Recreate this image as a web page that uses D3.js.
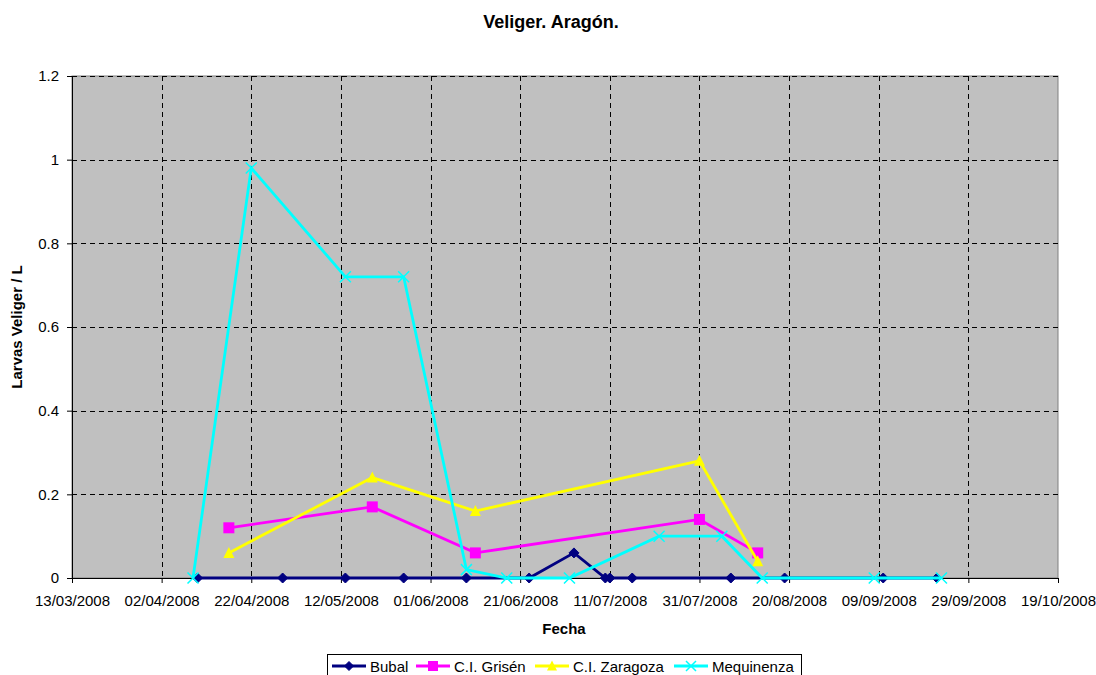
<html>
<head>
<meta charset="utf-8">
<script src="https://d3js.org/d3.v7.min.js"></script>
<style>
  body { margin: 0; background: #fff; }
  text { font-family: "Liberation Sans", Arial, sans-serif; }
</style>
</head>
<body>
<div id="chart"></div>
<script>
// series data (dates dd/mm/yyyy, larvas / L)
var bubalDates = ["10/04/2008","29/04/2008","13/05/2008","26/05/2008","09/06/2008","23/06/2008","03/07/2008","10/07/2008","11/07/2008","16/07/2008","07/08/2008","19/08/2008","10/09/2008","22/09/2008"];
var bubalValues = [0,0,0,0,0,0,0.06,0,0,0,0,0,0,0];

var grisenDates = ["17/04/2008","19/05/2008","11/06/2008","31/07/2008","13/08/2008"];
var grisenValues = [0.12,0.17,0.06,0.14,0.06];

var zaragozaDates = ["17/04/2008","19/05/2008","11/06/2008","31/07/2008","13/08/2008"];
var zaragozaValues = [0.06,0.24,0.16,0.28,0.04];

var mequiDates = ["09/04/2008","22/04/2008","13/05/2008","26/05/2008","09/06/2008","18/06/2008","02/07/2008","22/07/2008","05/08/2008","14/08/2008","08/09/2008","23/09/2008"];
var mequiValues = [0,0.98,0.72,0.72,0.02,0,0,0.1,0.1,0,0,0];

var xTickLabels = ["13/03/2008","02/04/2008","22/04/2008","12/05/2008","01/06/2008","21/06/2008","11/07/2008","31/07/2008","20/08/2008","09/09/2008","29/09/2008","19/10/2008"];
var yTicks = [0,0.2,0.4,0.6,0.8,1,1.2];

var parse = d3.timeParse("%d/%m/%Y");
var fmt = d3.timeFormat("%d/%m/%Y");

var series = [
  { name: "Bubal", color: "#000080", marker: "diamond", dates: bubalDates, values: bubalValues },
  { name: "C.I. Grisén", color: "#FF00FF", marker: "square", dates: grisenDates, values: grisenValues },
  { name: "C.I. Zaragoza", color: "#FFFF00", marker: "triangle", dates: zaragozaDates, values: zaragozaValues },
  { name: "Mequinenza", color: "#00FFFF", marker: "x", dates: mequiDates, values: mequiValues }
];
series.forEach(function (s) {
  s.points = s.dates.map(function (d, i) { return { date: parse(d), value: s.values[i] }; });
});

var W = 1096, H = 675;
var margin = { top: 76, right: 38, bottom: 97, left: 72 };
var width = W - margin.left - margin.right,
    height = H - margin.top - margin.bottom;

var svg = d3.select("#chart").append("svg")
  .attr("width", W).attr("height", H);

svg.append("text")
  .attr("x", 551).attr("y", 28)
  .attr("text-anchor", "middle")
  .style("font-weight", "bold").style("font-size", "18px")
  .text("Veliger. Aragón.");

var g = svg.append("g").attr("transform", "translate(" + margin.left + "," + margin.top + ")");

var x = d3.scaleTime()
  .domain([parse(xTickLabels[0]), parse(xTickLabels[xTickLabels.length - 1])])
  .range([0, width]);
var y = d3.scaleLinear().domain([0, 1.2]).range([height, 0]);

// plot area
g.append("rect")
  .attr("width", width).attr("height", height)
  .attr("fill", "#C0C0C0").attr("stroke", "#808080").attr("stroke-width", 1);

var xTickDates = xTickLabels.map(parse);

// grid
g.selectAll(".hgrid").data(yTicks.slice(1)).enter().append("line")
  .attr("x1", 0).attr("x2", width)
  .attr("y1", function (d) { return Math.round(y(d)) + 0.5; })
  .attr("y2", function (d) { return Math.round(y(d)) + 0.5; })
  .attr("stroke", "#000").attr("stroke-dasharray", "5,4");
g.selectAll(".vgrid").data(xTickDates.slice(1, -1)).enter().append("line")
  .attr("y1", 0).attr("y2", height)
  .attr("x1", function (d) { return Math.round(x(d)) + 0.5; })
  .attr("x2", function (d) { return Math.round(x(d)) + 0.5; })
  .attr("stroke", "#000").attr("stroke-dasharray", "5,4");

// axes
var xAxis = g.append("g")
  .attr("transform", "translate(0," + height + ")")
  .call(d3.axisBottom(x).tickValues(xTickDates).tickFormat(fmt).tickSize(5).tickSizeOuter(0));
var yAxis = g.append("g")
  .call(d3.axisLeft(y).tickValues(yTicks).tickFormat(function (d) { return String(d); }).tickSize(5).tickSizeOuter(0));
[xAxis, yAxis].forEach(function (a) {
  a.selectAll("path, line").attr("stroke", "#000");
  a.selectAll("text").style("font-size", "15px").attr("fill", "#000")
    .style("font-family", "'Liberation Sans', Arial, sans-serif");
});
xAxis.selectAll("text").attr("y", 28).attr("dy", 0);
yAxis.selectAll("text").attr("x", -13);

svg.append("text")
  .attr("x", 564).attr("y", 634)
  .attr("text-anchor", "middle")
  .style("font-weight", "bold").style("font-size", "15px")
  .text("Fecha");
svg.append("text")
  .attr("transform", "translate(22," + 327 + ") rotate(-90)")
  .attr("text-anchor", "middle")
  .style("font-weight", "bold").style("font-size", "15px")
  .text("Larvas Veliger / L");

// marker drawing
function drawMarker(sel, type, color, size) {
  var s = size;
  if (type === "diamond") {
    sel.append("path").attr("d", "M0," + (-s / 2) + "L" + (s / 2) + ",0L0," + (s / 2) + "L" + (-s / 2) + ",0Z")
      .attr("fill", color).attr("stroke", color);
  } else if (type === "square") {
    sel.append("rect").attr("x", -s / 2).attr("y", -s / 2).attr("width", s).attr("height", s)
      .attr("fill", color);
  } else if (type === "triangle") {
    sel.append("path").attr("d", "M0," + (-s / 2 - 1) + "L" + (s / 2 + 0.5) + "," + (s / 2) + "L" + (-s / 2 - 0.5) + "," + (s / 2) + "Z")
      .attr("fill", color);
  } else {
    sel.append("path").attr("d", "M" + (-s / 2) + "," + (-s / 2) + "L" + (s / 2) + "," + (s / 2) + "M" + (s / 2) + "," + (-s / 2) + "L" + (-s / 2) + "," + (s / 2))
      .attr("stroke", color).attr("stroke-width", 1.5).attr("fill", "none");
  }
}
var markerSize = { diamond: 10, square: 11, triangle: 10, x: 11 };

var line = d3.line().x(function (d) { return x(d.date); }).y(function (d) { return y(d.value); });

series.forEach(function (s) {
  var sg = g.append("g");
  sg.append("path").datum(s.points)
    .attr("d", line).attr("fill", "none")
    .attr("stroke", s.color).attr("stroke-width", 2.8).attr("stroke-linejoin", "miter");
  sg.selectAll(".m").data(s.points).enter().append("g")
    .attr("transform", function (d) { return "translate(" + x(d.date) + "," + y(d.value) + ")"; })
    .each(function () { drawMarker(d3.select(this), s.marker, s.color, markerSize[s.marker]); });
});

// legend
var lg = svg.append("g").attr("transform", "translate(327,654)");
lg.append("rect").attr("x", 0.5).attr("y", 0.5).attr("width", 474).attr("height", 24)
  .attr("fill", "#fff").attr("stroke", "#000");
var lx = [5, 89, 208, 347];
series.forEach(function (s, i) {
  var item = lg.append("g").attr("transform", "translate(" + lx[i] + ",12)");
  item.append("line").attr("x1", 0).attr("x2", 34).attr("y1", 0).attr("y2", 0)
    .attr("stroke", s.color).attr("stroke-width", 2.8);
  var m = item.append("g").attr("transform", "translate(17,0)");
  drawMarker(m, s.marker, s.color, markerSize[s.marker] - 1);
  item.append("text").attr("x", 38).attr("y", 6)
    .style("font-size", "15px").text(s.name);
});
</script>
</body>
</html>
